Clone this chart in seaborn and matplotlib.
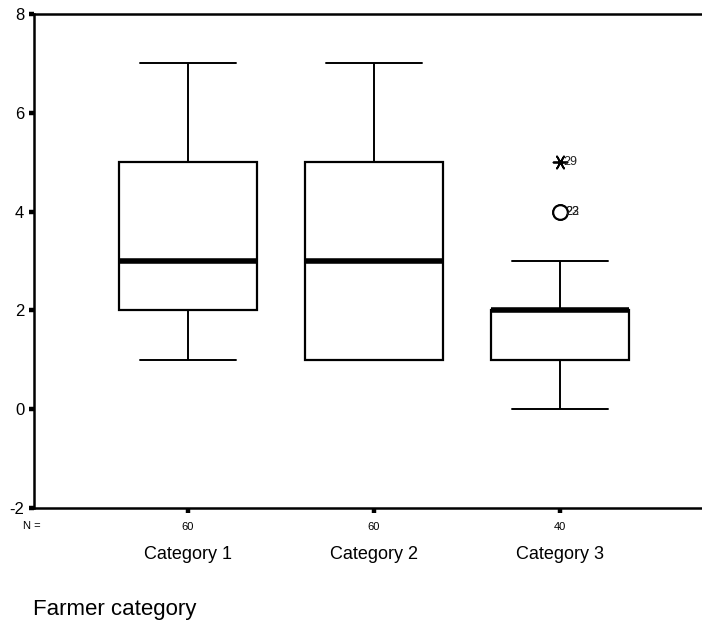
import numpy as np
import pandas as pd
import matplotlib
matplotlib.use("Agg")
import matplotlib.pyplot as plt
import seaborn as sns

# ---- data ----
categories = ["Category 1", "Category 2", "Category 3"]
n_labels = ["60", "60", "40"]
score_values = [0, 1, 2, 3, 4, 5, 6, 7]
# counts of each score value per category (reproduce the box statistics)
counts_cat1 = [0, 10, 12, 12, 8, 8, 6, 4]
counts_cat2 = [0, 16, 10, 8, 8, 8, 6, 4]
counts_cat3 = [4, 10, 20, 3, 2, 1, 0, 0]
# outliers of Category 3 (SPSS style: o = outlier, * = extreme)
outlier_cat = ["Category 3", "Category 3", "Category 3"]
outlier_val = [4, 4, 5]
outlier_case = ["22", "23", "29"]
outlier_kind = ["outlier", "outlier", "extreme"]
y_ticks = [-2, 0, 2, 4, 6, 8]

rows = []
for cat, cnts in zip(categories, [counts_cat1, counts_cat2, counts_cat3]):
    for v, c in zip(score_values, cnts):
        rows += [(cat, v)] * c
df = pd.DataFrame(rows, columns=["category", "score"])
out_df = pd.DataFrame({"category": outlier_cat, "score": outlier_val,
                       "case": outlier_case, "kind": outlier_kind})

sns.set_theme(style="white")
plt.rcParams["font.family"] = ["Liberation Sans", "DejaVu Sans"]
plt.rcParams["text.color"] = "black"

W, H = 702, 626
fig = plt.figure(figsize=(W / 100, H / 100), dpi=100)
ax = fig.add_axes([34 / W, 1 - 508 / H, 1 - 34 / W, (508 - 14) / H])

sns.boxplot(data=df, x="category", y="score", order=categories, ax=ax,
            width=0.742, color="white", linecolor="black", linewidth=1.6,
            whis=1.5, showfliers=False, capwidths=0.52,
            medianprops=dict(linewidth=4, color="black"),
            whiskerprops=dict(linewidth=1.4, color="black"),
            capprops=dict(linewidth=1.4, color="black"))

o1 = out_df[out_df["kind"] == "outlier"]
o2 = out_df[out_df["kind"] == "extreme"]
sns.stripplot(data=o1, x="category", y="score", order=categories, ax=ax,
              jitter=False, marker="o", size=10.5, color="white",
              edgecolor="black", linewidth=1.5)
sns.stripplot(data=o2, x="category", y="score", order=categories, ax=ax,
              jitter=False, marker=(6, 2, 90), size=10, color="black",
              edgecolor="black", linewidth=1.3)
for _, r in out_df.iterrows():
    xpos = categories.index(r["category"])
    dx = 0.03 if r["kind"] == "outlier" else 0.018
    ax.text(xpos + dx, r["score"], r["case"], fontsize=9, ha="left",
            va="center", color="#222222")

ax.set_xlim(-0.828, 2.763)
ax.set_ylim(-2, 8)
ax.set_yticks(y_ticks)
ax.set_yticklabels([str(t) for t in y_ticks], fontsize=12)
ax.set_xticks(range(len(categories)))
ax.set_xticklabels(n_labels, fontsize=8)
ax.tick_params(axis="both", direction="out", length=3.6, width=3.2,
               color="black", labelcolor="black", left=True, bottom=True)
ax.tick_params(axis="y", pad=3.5)
ax.tick_params(axis="x", pad=6.5)
ax.set_xlabel("")
ax.set_ylabel("")
for s in ["left", "top", "bottom"]:
    ax.spines[s].set_visible(True)
    ax.spines[s].set_color("black")
    ax.spines[s].set_linewidth(1.8)
ax.spines["right"].set_visible(False)

for i, cat in enumerate(categories):
    ax.text(i, -0.095, cat, transform=ax.get_xaxis_transform(),
            ha="center", va="center", fontsize=13, color="black")

fig.text(32 / W, 1 - 526 / H, "N =", ha="center", va="center", fontsize=8,
         color="black")
fig.text(33 / W, 1 - 609 / H, "Farmer category", ha="left", va="center",
         fontsize=16, color="black")

fig.savefig("out.png", dpi=100)
